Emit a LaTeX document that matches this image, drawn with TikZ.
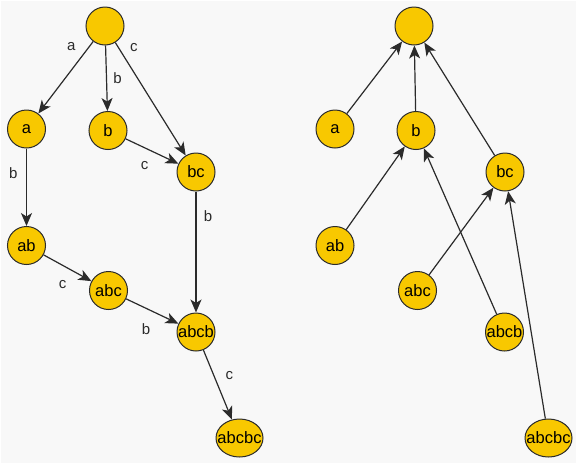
\documentclass[tikz,border=0pt]{standalone}
\usepackage{fontspec}
\setmainfont{Liberation Sans}
\usetikzlibrary{arrows.meta,shapes.geometric}
\definecolor{gold}{HTML}{F8C800}
\definecolor{bg}{HTML}{F8F8F8}
\definecolor{ink}{HTML}{2B2B2B}

\begin{document}
\begin{tikzpicture}[x=1pt,y=-1pt,every node/.style={font=\fontsize{15}{17}\selectfont,text=ink},
  vtx/.style={circle,draw=ink,line width=1pt,fill=gold,inner sep=0pt,minimum size=38pt,font=\fontsize{16.5}{18}\selectfont,text=black},
  lnk/.style={-{Stealth[length=13pt,width=11pt,inset=3.5pt]},draw=ink,line width=1.2pt}]
\fill[white] (0,0) rectangle (577,464);
\fill[bg] (1,1) rectangle (576,463);
% trie
\node[vtx] (t0) at (105,26) {};
\node[vtx] (ta) at (26.5,129) {a};
\node[vtx] (tb) at (108,130.5) {b};
\node[vtx] (tbc) at (196,172) {bc};
\node[vtx] (tab) at (26.5,245.5) {ab};
\node[vtx] (tabc) at (108.5,290.5) {abc};
\node[vtx] (tabcb) at (196,332) {\makebox[0pt]{abcb}};
\node[vtx,ellipse,minimum width=47pt,minimum height=38pt] (tabcbc) at (239.5,438) {\makebox[0pt]{abcbc}};
\draw[lnk] (t0) -- node[pos=0.07,left=10pt]{a} (ta);
\draw[lnk] (t0) -- node[pos=0.5,right=3pt]{b} (tb);
\draw[lnk] (t0) -- node[pos=0.04,right=8pt]{c} (tbc);
\draw[lnk] (tb) -- node[pos=0.36,below=10pt]{c} (tbc);
\draw[lnk] (ta) -- node[pos=0.32,left=5pt]{b} (tab);
\draw[lnk] (tbc) -- node[pos=0.2,right=4pt]{b} (tabcb);
\draw[lnk] (tab) -- node[pos=0.4,below=11pt]{c} (tabc);
\draw[lnk] (tabc) -- node[pos=0.38,below=11pt]{b} (tabcb);
\draw[lnk] (tabcb) -- node[pos=0.36,right=8pt]{c} (tabcbc);
% suffix links
\node[vtx] (s0) at (414,26) {};
\node[vtx] (sa) at (335,129) {a};
\node[vtx] (sb) at (416,130.5) {b};
\node[vtx] (sbc) at (505,172) {bc};
\node[vtx] (sab) at (335,245.5) {ab};
\node[vtx] (sabc) at (417.5,290.5) {abc};
\node[vtx] (sabcb) at (504.5,332) {\makebox[0pt]{abcb}};
\node[vtx,ellipse,minimum width=47pt,minimum height=38pt] (sabcbc) at (548.5,438) {\makebox[0pt]{abcbc}};
\draw[lnk] (sa) -- (s0);
\draw[lnk] (sb) -- (s0);
\draw[lnk] (sbc) -- (s0);
\draw[lnk] (sab) -- (sb);
\draw[lnk] (sabcb) -- (sb);
\draw[lnk] (sabc) -- (sbc);
\draw[lnk] (sabcbc) -- (sbc);
\end{tikzpicture}
\end{document}
